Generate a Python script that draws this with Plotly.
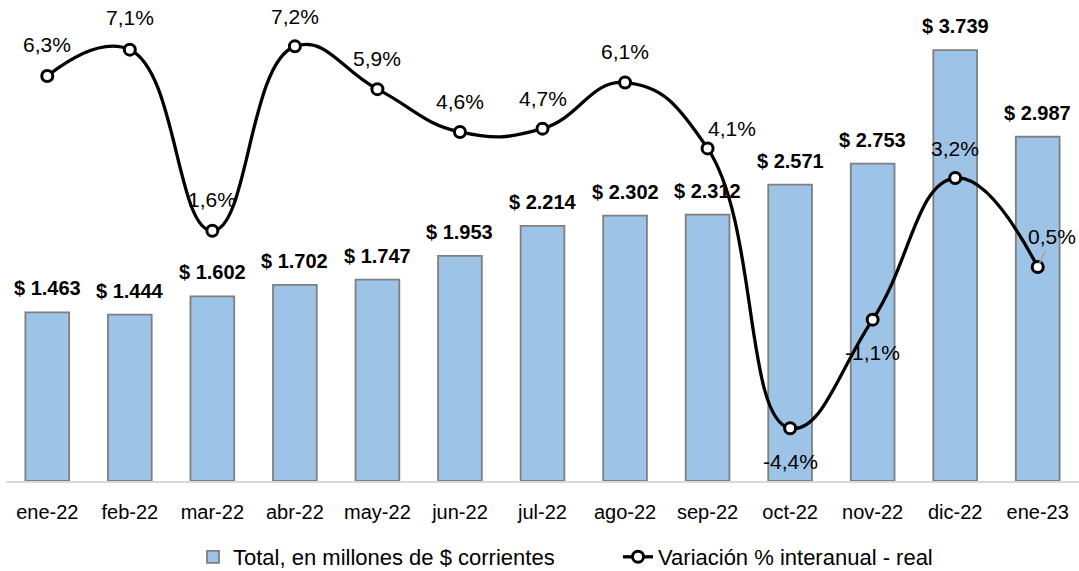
import plotly.graph_objects as go

categories = ["ene-22", "feb-22", "mar-22", "abr-22", "may-22", "jun-22", "jul-22",
              "ago-22", "sep-22", "oct-22", "nov-22", "dic-22", "ene-23"]
totals = [1463, 1444, 1602, 1702, 1747, 1953, 2214, 2302, 2312, 2571, 2753, 3739, 2987]
variation = [6.3, 7.1, 1.6, 7.2, 5.9, 4.6, 4.7, 6.1, 4.1, -4.4, -1.1, 3.2, 0.5]

bar_name = "Total, en millones de $ corrientes"
line_name = "Variación % interanual - real"

# label offsets (pixels) for percent labels: (xshift, yshift)
pct_offsets = [(0, 31), (0, 32), (0, 31), (0, 30), (0, 31), (0, 30), (0, 30),
               (0, 31), (24, 20), (0, -33), (0, -33), (0, 30), (14, 30)]

FONT = "Arial, Liberation Sans, sans-serif"

def fmt_money(v):
    return "$ " + f"{v:,}".replace(",", ".")

def fmt_pct(v):
    return f"{v:.1f}".replace(".", ",") + "%"

fig = go.Figure()
fig.add_trace(go.Bar(
    x=categories, y=totals, name=bar_name,
    marker=dict(color="#9DC3E6", line=dict(color="#7F7F7F", width=1.8)),
    yaxis="y",
))
fig.add_trace(go.Scatter(
    x=categories, y=variation, name=line_name, mode="lines+markers",
    line=dict(color="black", width=3.3, shape="spline", smoothing=1.3),
    marker=dict(symbol="circle", size=11, color="white", line=dict(color="black", width=3)),
    yaxis="y2",
))

annotations = []
for c, v in zip(categories, totals):
    annotations.append(dict(
        x=c, y=v, xref="x", yref="y", text="<b>" + fmt_money(v) + "</b>",
        showarrow=False, yanchor="middle", yshift=24,
        font=dict(family=FONT, size=20, color="black"),
    ))
for i, (c, v) in enumerate(zip(categories, variation)):
    dx, dy = pct_offsets[i]
    if i == len(categories) - 1:
        annotations.append(dict(
            x=c, y=v, xref="x", yref="y2", text=fmt_pct(v),
            showarrow=True, arrowhead=0, arrowcolor="#A6A6A6", arrowwidth=1.5,
            ax=dx, ay=-dy, standoff=4,
            font=dict(family=FONT, size=21, color="black"),
        ))
    else:
        annotations.append(dict(
            x=c, y=v, xref="x", yref="y2", text=fmt_pct(v),
            showarrow=False, xshift=dx, yshift=dy, yanchor="middle",
            font=dict(family=FONT, size=21, color="black"),
        ))

fig.update_layout(
    width=1079, height=571,
    margin=dict(l=6, r=0, t=20, b=90),
    paper_bgcolor="white", plot_bgcolor="white",
    bargap=0.47,
    font=dict(family=FONT, size=20, color="black"),
    xaxis=dict(
        range=[-0.5, 12.5], showgrid=False, showline=True, linecolor="#D9D9D9", linewidth=1.5,
        ticks="outside", ticklen=12, tickcolor="rgba(0,0,0,0)",
        tickfont=dict(family=FONT, size=20, color="black"),
    ),
    yaxis=dict(range=[0, 4000], visible=False),
    yaxis2=dict(range=[-6, 8], overlaying="y", side="right", visible=False),
    legend=dict(
        orientation="h", x=0.1743, xanchor="left",
        yref="container", y=0.0245, yanchor="middle",
        font=dict(family=FONT, size=22, color="black"),
        entrywidth=380, entrywidthmode="pixels",
        traceorder="normal", borderwidth=0,
    ),
    annotations=annotations,
    showlegend=True,
)

fig.write_html("out.html", config={"displayModeBar": False},
               post_script="document.body.style.margin='0';")
